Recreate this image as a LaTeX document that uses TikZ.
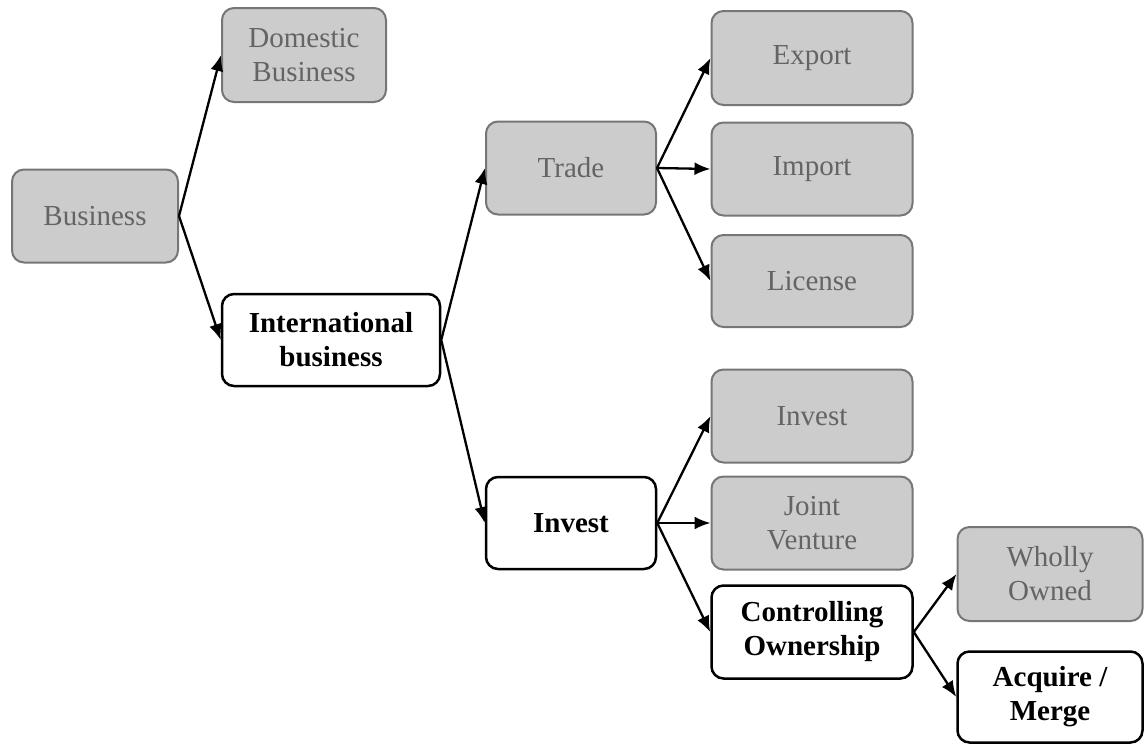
\documentclass[tikz,border=0pt]{standalone}
\usepackage{fontspec}
\setmainfont{Liberation Serif}
\usepackage{tikz}
\usetikzlibrary{arrows.meta, positioning}
\usepackage{xcolor}
\definecolor{boxfill}{RGB}{204,204,204}
\definecolor{boxline}{RGB}{118,118,118}
\definecolor{boxtext}{RGB}{100,100,100}

\tikzset{
  box/.style={rectangle, rounded corners=12pt, align=center, inner sep=2pt,
    font=\fontsize{29}{34}\selectfont},
  greybox/.style={box, fill=boxfill, draw=boxline, line width=2pt, text=boxtext},
  whitebox/.style={box, fill=white, draw=black, line width=2.5pt, text=black,
    font=\fontsize{29}{34}\selectfont\bfseries},
  link/.style={line width=2.3pt, -{Latex[length=16pt,width=13pt]}}
}

\begin{document}
\begin{tikzpicture}[x=1pt, y=-1pt]
  \useasboundingbox (0,0) rectangle (1145,744);

  % first level
  \node[greybox, minimum width=166pt, minimum height=93pt] (business) at (95,216) {Business};
  \node[greybox, minimum width=164pt, minimum height=94pt] (domestic) at (304,55) {Domestic\\Business};
  \node[whitebox, minimum width=218pt, minimum height=92pt] (intl) at (331,340) {International\\business};

  % international branch
  \node[greybox, minimum width=170pt, minimum height=93pt] (trade) at (571,168) {Trade};
  \node[whitebox, minimum width=170pt, minimum height=92pt] (invest) at (571,523) {Invest};

  % trade options
  \node[greybox, minimum width=201pt, minimum height=94pt] (export) at (812,58) {Export};
  \node[greybox, minimum width=201pt, minimum height=93pt] (import) at (812,169) {Import};
  \node[greybox, minimum width=201pt, minimum height=92pt] (license) at (812,281) {License};

  % invest options
  \node[greybox, minimum width=201pt, minimum height=93pt] (investopt) at (812,416) {Invest};
  \node[greybox, minimum width=201pt, minimum height=93pt] (joint) at (812,523) {Joint\\Venture};
  \node[whitebox, minimum width=201pt, minimum height=93pt] (control) at (812,632) {Controlling\\Ownership};

  % ownership
  \node[greybox, minimum width=185pt, minimum height=94pt] (wholly) at (1050,574) {Wholly\\Owned};
  \node[whitebox, minimum width=185pt, minimum height=91pt] (acquire) at (1050,697) {Acquire /\\Merge};

  \draw[link] (business.east) -- (domestic.west);
  \draw[link] (business.east) -- (intl.west);
  \draw[link] (intl.east) -- (trade.west);
  \draw[link] (intl.east) -- (invest.west);
  \draw[link] (trade.east) -- (export.west);
  \draw[link] (trade.east) -- (import.west);
  \draw[link] (trade.east) -- (license.west);
  \draw[link] (invest.east) -- (investopt.west);
  \draw[link] (invest.east) -- (joint.west);
  \draw[link] (invest.east) -- (control.west);
  \draw[link] (control.east) -- (wholly.west);
  \draw[link] (control.east) -- (acquire.west);
\end{tikzpicture}
\end{document}
